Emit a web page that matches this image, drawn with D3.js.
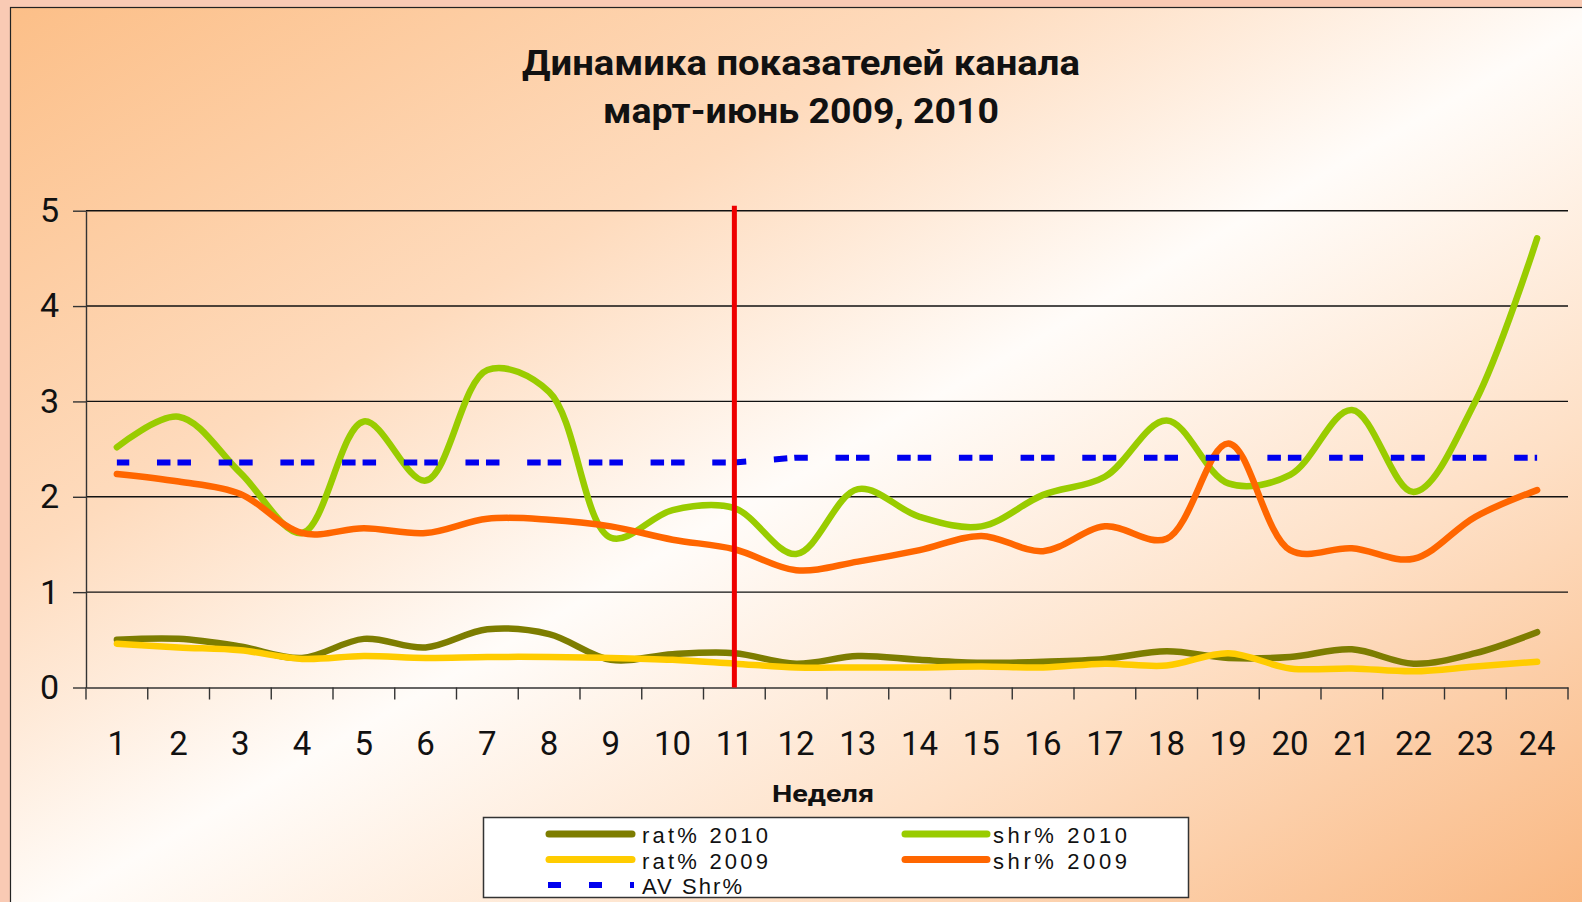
<!DOCTYPE html>
<html><head><meta charset="utf-8">
<script src="https://cdn.jsdelivr.net/npm/d3@7"></script>
<style>html,body{margin:0;padding:0;overflow:hidden;background:#f9cab4}</style>
</head><body>
<script>
// ---- data ----
const weeks = ["1","2","3","4","5","6","7","8","9","10","11","12","13","14","15","16","17","18","19","20","21","22","23","24"];
const rat2010 = [0.50,0.51,0.43,0.31,0.51,0.42,0.61,0.56,0.29,0.35,0.36,0.25,0.33,0.29,0.26,0.27,0.30,0.38,0.31,0.32,0.40,0.25,0.36,0.58];
const shr2010 = [2.52,2.84,2.25,1.62,2.79,2.17,3.33,3.10,1.57,1.86,1.88,1.40,2.08,1.79,1.69,2.02,2.21,2.80,2.14,2.23,2.91,2.05,3.00,4.71];
const rat2009 = [0.46,0.42,0.39,0.30,0.33,0.31,0.32,0.32,0.31,0.29,0.25,0.21,0.21,0.21,0.22,0.21,0.25,0.23,0.36,0.20,0.20,0.17,0.22,0.27];
const shr2009 = [2.24,2.16,2.03,1.62,1.67,1.62,1.77,1.76,1.69,1.55,1.45,1.23,1.32,1.44,1.59,1.43,1.69,1.56,2.56,1.44,1.46,1.35,1.79,2.07];
const avShr   = [2.36,2.36,2.36,2.36,2.36,2.36,2.36,2.36,2.36,2.36,2.36,2.41,2.41,2.41,2.41,2.41,2.41,2.41,2.41,2.41,2.41,2.41,2.41,2.41];
const yTicks = [0,1,2,3,4,5];
const markerWeek = "11";
const titleLines = ["Динамика показателей канала","март-июнь 2009, 2010"];
const xTitle = "Неделя";
const seriesNames = ["rat% 2010","shr% 2010","rat% 2009","shr% 2009","AV Shr%"];

// ---- layout ----
const W = 1582, H = 902;
const svg = d3.select("body").append("svg").attr("width", W).attr("height", H);
const defs = svg.append("defs");
const grad = defs.append("linearGradient").attr("id","bg").attr("x1",0).attr("y1",0).attr("x2",1).attr("y2",1);
[[0,"#fcbf88"],[0.3,"#fedbbd"],[0.5,"#fffcf9"],[0.72,"#fee0c6"],[1,"#f9b47c"]].forEach(s=>grad.append("stop").attr("offset",s[0]).attr("stop-color",s[1]));

svg.append("rect").attr("width",W).attr("height",H).attr("fill","#f9cab4");
svg.append("rect").attr("x",10.5).attr("y",7.5).attr("width",W+20).attr("height",H+20)
   .attr("fill","url(#bg)").attr("stroke","#222").attr("stroke-width",1.2);

const x = d3.scaleBand().domain(weeks).range([86,1568]);
const bw = x.bandwidth();
const cx = w => x(w) + bw/2;
const y = d3.scaleLinear().domain([0,5]).range([687.5,210.7]);

// title
const titleLen = [558, 396];
svg.append("g").selectAll("text").data(titleLines).join("text")
  .attr("x",801).attr("y",(d,i)=>75+i*48)
  .attr("text-anchor","middle").attr("font-family","Roboto, 'Liberation Sans', sans-serif")
  .attr("font-weight","bold").attr("font-size",35).attr("fill","#111")
  .attr("textLength",(d,i)=>titleLen[i]).attr("lengthAdjust","spacingAndGlyphs").text(d=>d);

// gridlines
svg.append("g").selectAll("line").data(yTicks.filter(t=>t>0)).join("line")
  .attr("x1",86).attr("x2",1568).attr("y1",d=>y(d)).attr("y2",d=>y(d))
  .attr("stroke","#111").attr("stroke-width",1.4);

// y axis
const ya = svg.append("g").attr("transform","translate(86,0)")
  .call(d3.axisLeft(y).tickValues(yTicks).tickFormat(d3.format("d")).tickSize(13).tickSizeOuter(0).tickPadding(14));
ya.select(".domain").attr("stroke","#333").attr("stroke-width",1.4);
ya.selectAll(".tick line").attr("stroke","#333").attr("stroke-width",1.4);
ya.selectAll("text").attr("font-family","Roboto, sans-serif").attr("font-size",34).attr("fill","#111");

// x axis
const xa = svg.append("g").attr("transform",`translate(0,${y(0)})`)
  .call(d3.axisBottom(x).tickSize(0).tickSizeOuter(0).tickPadding(44));
xa.select(".domain").attr("stroke","#333").attr("stroke-width",1.4);
xa.selectAll("text").attr("font-family","Roboto, sans-serif").attr("font-size",33).attr("fill","#111");
const bounds = weeks.map(w=>x(w)).concat([x.range()[1]]);
xa.append("g").selectAll("line").data(bounds).join("line")
  .attr("x1",d=>d).attr("x2",d=>d).attr("y1",0).attr("y2",12)
  .attr("stroke","#333").attr("stroke-width",1.4);

// axis title
svg.append("text").attr("x",823).attr("y",802).attr("text-anchor","middle")
  .attr("font-family","Roboto, sans-serif").attr("font-weight","bold").attr("font-size",23)
  .attr("textLength",102).attr("lengthAdjust","spacingAndGlyphs").attr("fill","#111").text(xTitle);

// series
const smooth = d3.line().x((d,i)=>cx(weeks[i])).y(d=>y(d)).curve(d3.curveCatmullRom.alpha(0.5));
const straight = d3.line().x((d,i)=>cx(weeks[i])).y(d=>y(d));
const series = [
  {v:rat2010, c:"#7d7d00"},
  {v:shr2010, c:"#99cc00"},
  {v:rat2009, c:"#ffcc00"},
  {v:shr2009, c:"#ff6600"}
];
const lg = svg.append("g");
series.forEach(s=>{
  lg.append("path").attr("d",smooth(s.v)).attr("fill","none").attr("stroke",s.c)
    .attr("stroke-width",6.5).attr("stroke-linecap","round").attr("stroke-linejoin","round");
});
lg.append("path").attr("d",straight(avShr)).attr("fill","none").attr("stroke","#0000ee")
  .attr("stroke-width",6).attr("stroke-dasharray","13.5,7,13.5,27.7").attr("stroke-dashoffset",21.6);

// marker line
svg.append("line").attr("x1",cx(markerWeek)).attr("x2",cx(markerWeek))
  .attr("y1",y(5)-5).attr("y2",y(0)).attr("stroke","#ee0000").attr("stroke-width",5);

// legend
const leg = svg.append("g");
defs.append("clipPath").attr("id","legclip").append("rect").attr("x",483).attr("y",817).attr("width",706).attr("height",80);
leg.append("rect").attr("x",483.5).attr("y",817.5).attr("width",705).attr("height",80)
  .attr("fill","#ffffff").attr("stroke","#333").attr("stroke-width",1.5);
const items = [
  {n:seriesNames[0], c:"#7d7d00", col:0, row:0, tl:126},
  {n:seriesNames[1], c:"#99cc00", col:1, row:0, tl:134},
  {n:seriesNames[2], c:"#ffcc00", col:0, row:1, tl:126},
  {n:seriesNames[3], c:"#ff6600", col:1, row:1, tl:134},
  {n:seriesNames[4], c:"#0000ee", col:0, row:2, tl:100, dash:true}
];
const colX = [[549,632,642],[905,987,993]];
const li = leg.append("g").attr("clip-path","url(#legclip)");
items.forEach(it=>{
  const yy = 834 + it.row*25.5;
  const [a,b,t] = colX[it.col];
  const ln = li.append("line").attr("x1",it.dash?548:a).attr("x2",it.dash?634:b).attr("y1",yy).attr("y2",yy)
    .attr("stroke",it.c).attr("stroke-width",it.dash?6:7);
  if(it.dash) ln.attr("stroke-dasharray","13,28"); else ln.attr("stroke-linecap","round");
  li.append("text").attr("x",t).attr("y",yy+9).attr("font-family","'Liberation Sans', Arial, sans-serif")
    .attr("font-size",22).attr("fill","#111").attr("textLength",it.tl).attr("lengthAdjust","spacing").text(it.n);
});
</script>
</body></html>
